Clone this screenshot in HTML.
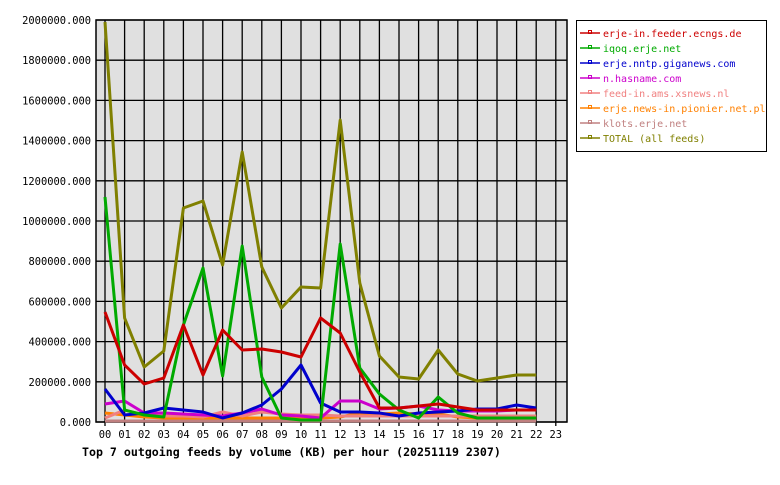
<!DOCTYPE html>
<html><head><meta charset="utf-8"><style>
body{margin:0;background:#fff;width:780px;height:480px;overflow:hidden}
text{font-family:"DejaVu Sans Mono","Liberation Mono",monospace}
</style></head><body>
<svg width="780" height="480" xmlns="http://www.w3.org/2000/svg">
<rect x="96" y="20" width="471" height="402" fill="#e0e0e0"/>
<g id="grid" stroke="#000" stroke-width="1.3"></g>
<rect x="96" y="20" width="471" height="402" fill="none" stroke="#000" stroke-width="1.5"/>
<g id="ylab" font-size="10.4" text-anchor="end" fill="#000"></g>
<g id="xlab" font-size="10.4" text-anchor="middle" fill="#000"></g>
<g id="series" fill="none" stroke-width="3" stroke-linejoin="round"></g>
<text x="82" y="456" font-size="11.6" font-weight="bold" fill="#000">Top 7 outgoing feeds by volume (KB) per hour (20251119 2307)</text>
<rect x="576.5" y="20.5" width="190" height="131" fill="#fff" stroke="#000"/>
<g id="legend" font-size="10"></g>
</svg>
<script>
var NS="http://www.w3.org/2000/svg";
function el(p,t,a,txt){var e=document.createElementNS(NS,t);for(var k in a)e.setAttribute(k,a[k]);if(txt)e.textContent=txt;p.appendChild(e);return e;}
var g=document.getElementById("grid"),yl=document.getElementById("ylab"),xl=document.getElementById("xlab");
function X(i){return 105+19.6*i;}
for(var i=0;i<=10;i++){var y=422-40.2*i;el(g,"line",{x1:96,x2:567,y1:y,y2:y});el(yl,"text",{x:91,y:y+4},(i*200000)+".000");}
for(var i=0;i<24;i++){el(g,"line",{x1:X(i),x2:X(i),y1:20,y2:426});el(xl,"text",{x:X(i),y:438},(i<10?"0":"")+i);}
var S=[
["#c08080",[421,421,421,421,421,421,421,421,421,421,421,421,421,421,421,421,421,421,421,421,421,421,421]],
["#ff8000",[413,415,417,418,418,418,418,418,418,418,418,418,417,413,414,413,414,414,417,418,418,418,418]],
["#f08080",[418,410,415,416,416,417,412,416,412,414,415,415,416,416,416,416,416,416,416,416,416,416,416]],
["#cc00cc",[404,401,413,413,414,415,416,413,409,415,416,418,401,401,409,408,406,410,411,411,411,410,410]],
["#0000cc",[389,415,413,408,410,412,418,413,405,389,365,403,412,412,413,416,413,412,411,409,409,405,408]],
["#00aa00",[197,410,415,417,325,268,376,246,377,418,420,420,244,368,394,410,418,397,413,418,418,418,418]],
["#cc0000",[312,365,384,378,325,375,330,350,349,352,357,318,333,372,408,408,406,404,407,410,410,410,410]],
["#808000",[22,318,367,351,208,201,265,152,267,308,287,288,120,283,356,377,379,350,374,381,378,375,375]]];
var sg=document.getElementById("series");
S.forEach(function(s){el(sg,"polyline",{stroke:s[0],points:s[1].map(function(v,i){return X(i)+","+v;}).join(" ")});});
var L=[["erje-in.feeder.ecngs.de","#cc0000"],["iqoq.erje.net","#00aa00"],["erje.nntp.giganews.com","#0000cc"],["n.hasname.com","#cc00cc"],["feed-in.ams.xsnews.nl","#f08080"],["erje.news-in.pionier.net.pl","#ff8000"],["klots.erje.net","#c08080"],["TOTAL (all feeds)","#808000"]];
var lg=document.getElementById("legend");
L.forEach(function(l,i){var y=33+15*i;el(lg,"line",{x1:580,x2:600,y1:y,y2:y,stroke:l[1],"stroke-width":1.5});el(lg,"rect",{x:588.5,y:y-2.5,width:3,height:3,fill:"none",stroke:l[1]});el(lg,"text",{x:603,y:y+4,fill:l[1]},l[0]);});
</script>
</body></html>
